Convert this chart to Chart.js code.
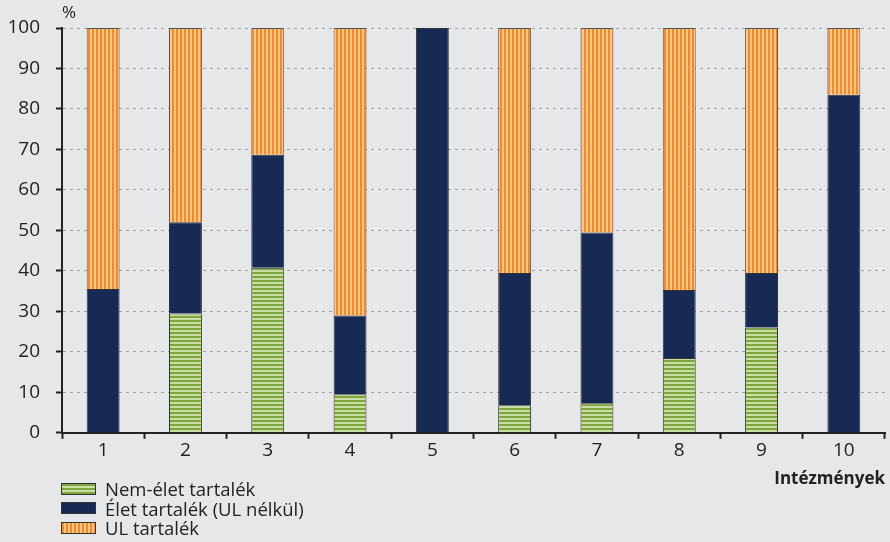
<!DOCTYPE html>
<html>
<head>
<meta charset="utf-8">
<script src="https://cdn.jsdelivr.net/npm/chart.js@4"></script>
<style>
    html, body { margin: 0; padding: 0; background: #e6e7e9; }
    #wrap { position: relative; width: 890px; height: 542px; font-family: 'Open Sans', 'Noto Sans', sans-serif; color: #222; }
    #pct { position: absolute; left: 62px; top: 0px; font-size: 17px; }
    #legend { position: absolute; left: 61px; top: 479px; font-size: 18.5px; }
    .row { display: flex; align-items: center; height: 19.5px; }
    .sw { width: 33px; height: 10px; border: 1px solid #333; margin-right: 9px; }
</style>
</head>
<body>
<div id="wrap">
    <canvas id="chart" width="890" height="542"></canvas>
    <div id="pct">%</div>
    <div id="legend">
        <div class="row"><span class="sw" style="background: repeating-linear-gradient(to bottom, #7ea63c 0 2px, #c9dfa6 2px 4px);"></span>Nem-élet tartalék</div>
        <div class="row"><span class="sw" style="background: #172a54;"></span>Élet tartalék (UL nélkül)</div>
        <div class="row"><span class="sw" style="background: repeating-linear-gradient(to right, #f7891f 0 2px, #fcc790 2px 4px);"></span>UL tartalék</div>
    </div>
</div>
<script>
var labels = ['1', '2', '3', '4', '5', '6', '7', '8', '9', '10'];
var nemElet = [0, 29.5, 40.8, 9.5, 0, 6.8, 7.3, 18.5, 26, 0];
var elet = [35.5, 22.5, 27.9, 19.5, 100, 32.7, 42.2, 16.8, 13.5, 83.5];
var ul = [64.5, 48, 31.3, 71, 0, 60.5, 50.5, 64.7, 60.5, 16.5];

function stripes(horizontal, c1, c2) {
    var p = document.createElement('canvas');
    p.width = 4;
    p.height = 4;
    var ctx = p.getContext('2d');
    ctx.fillStyle = c2;
    ctx.fillRect(0, 0, 4, 4);
    ctx.fillStyle = c1;
    if (horizontal) {
        ctx.fillRect(0, 0, 4, 2);
    } else {
        ctx.fillRect(0, 0, 2, 4);
    }
    return ctx.createPattern(p, 'repeat');
}

var font = { family: "'Open Sans', 'Noto Sans', sans-serif", size: 19 };

var data = {
    labels: labels,
    datasets: [
        {
            label: 'Nem-élet tartalék',
            backgroundColor: stripes(true, '#7ea63c', '#c9dfa6'),
            borderColor: '#333',
            borderWidth: 1,
            data: nemElet
        },
        {
            label: 'Élet tartalék (UL nélkül)',
            backgroundColor: '#172a54',
            borderColor: '#333',
            borderWidth: 1,
            data: elet
        },
        {
            label: 'UL tartalék',
            backgroundColor: stripes(false, '#f7891f', '#fcc790'),
            borderColor: '#555',
            borderWidth: 1,
            data: ul
        }
    ]
};

const config = {
    type: 'bar',
    data: data,
    options: {
        responsive: false,
        animation: false,
        barPercentage: 0.8,
        categoryPercentage: 0.5,
        layout: {
            padding: { left: 0, right: 5, top: 28, bottom: 53 }
        },
        scales: {
            x: {
                stacked: true,
                border: { color: '#222', width: 2 },
                grid: {
                    drawOnChartArea: false,
                    drawTicks: true,
                    tickLength: 6,
                    tickColor: '#222',
                    tickWidth: 2
                },
                ticks: { color: '#222', font: font, padding: 0 },
                title: {
                    display: true,
                    text: 'Intézmények',
                    align: 'end',
                    color: '#222',
                    font: { family: font.family, size: 17, weight: 'bold' },
                    padding: { top: 7, bottom: 0 }
                }
            },
            y: {
                stacked: true,
                min: 0,
                max: 100,
                afterFit: function (scale) {
                    scale.width = 62;
                },
                border: { color: '#222', width: 2, dash: [3, 4] },
                grid: {
                    color: '#a0a0a0',
                    tickBorderDash: [],
                    tickColor: '#222',
                    tickWidth: 2,
                    tickLength: 6
                },
                ticks: { stepSize: 10, color: '#222', font: font, padding: 16 }
            }
        },
        plugins: {
            legend: { display: false },
            tooltip: { enabled: false }
        }
    }
};
const graphic = new Chart(document.getElementById('chart'), config);
</script>
</body>
</html>
